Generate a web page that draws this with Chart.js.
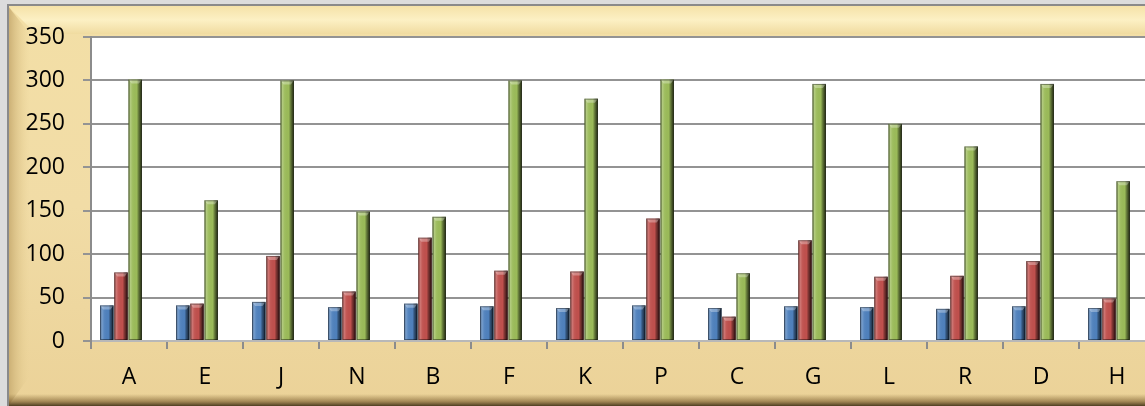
<!DOCTYPE html>
<html>
<head>
<meta charset="utf-8">
<script src="https://cdn.jsdelivr.net/npm/chart.js@4/dist/chart.umd.min.js"></script>
<style>
  html, body { margin: 0; padding: 0; overflow: hidden; background: #dcdcdc; }
  #wrap { width: 1160px; height: 406px; }
</style>
</head>
<body>
<div id="wrap"><canvas id="barChart" width="1160" height="406"></canvas></div>
<script>
const categories = ['A', 'E', 'J', 'N', 'B', 'F', 'K', 'P', 'C', 'G', 'L', 'R', 'D', 'H'];
const blueValues = [41, 41, 45, 39, 43, 40, 38, 41, 38, 40, 39, 37, 40, 38];
const redValues = [79, 43, 98, 57, 119, 81, 80, 141, 28, 116, 74, 75, 92, 49];
const greenValues = [301, 162, 300, 149, 143, 300, 279, 301, 78, 296, 250, 224, 296, 184];
const yTicks = [0, 50, 100, 150, 200, 250, 300, 350];

// parchment frame + white plot area
const frame = {
  id: 'frame',
  beforeDraw(chart) {
    const c = chart.ctx, W = chart.width, H = chart.height, a = chart.chartArea;
    c.save();
    c.fillStyle = '#dcdcdc';
    c.fillRect(0, 0, W, H);
    let g = c.createLinearGradient(0, 5, 0, H);
    g.addColorStop(0, '#f3dfa6');
    g.addColorStop(0.5, '#f1dca6');
    g.addColorStop(1, '#ebd298');
    c.fillStyle = g;
    c.fillRect(8, 5, W - 8, H - 5);
    // bright top band
    g = c.createLinearGradient(0, 6, 0, 34);
    g.addColorStop(0, '#f5e2a8');
    g.addColorStop(0.5, '#fcf0c4');
    g.addColorStop(1, '#f0dba0');
    c.fillStyle = g;
    c.beginPath();
    c.moveTo(8, 6); c.lineTo(W, 6); c.lineTo(W, 34); c.lineTo(36, 34); c.closePath();
    c.fill();
    // left band, slightly darker
    g = c.createLinearGradient(8, 0, 30, 0);
    g.addColorStop(0, '#c9ad72');
    g.addColorStop(1, 'rgba(233,210,150,0)');
    c.fillStyle = g;
    c.beginPath();
    c.moveTo(8, 6); c.lineTo(30, 34); c.lineTo(30, H - 30); c.lineTo(8, H); c.closePath();
    c.fill();
    // bottom shadow
    g = c.createLinearGradient(0, H - 12, 0, H);
    g.addColorStop(0, 'rgba(120,90,40,0)');
    g.addColorStop(0.6, 'rgba(110,80,35,0.55)');
    g.addColorStop(1, 'rgba(60,45,20,0.9)');
    c.fillStyle = g;
    c.fillRect(8, H - 12, W - 8, 12);
    // outer border
    c.strokeStyle = '#8a8a8a';
    c.lineWidth = 2;
    c.beginPath();
    c.moveTo(8, H); c.lineTo(8, 5); c.lineTo(W, 5);
    c.stroke();
    // plot area
    c.fillStyle = '#ffffff';
    c.fillRect(a.left, a.top, a.right - a.left, a.bottom - a.top);
    c.restore();
  }
};

// 3D shading on columns, drawn shifted left for depth
const shading = {
  id: 'shading',
  beforeDatasetsDraw(chart) {
    chart.ctx.save();
    chart.ctx.translate(-8, 0);
  },
  afterDatasetsDraw(chart) {
    const c = chart.ctx;
    chart.data.datasets.forEach((ds, i) => {
      chart.getDatasetMeta(i).data.forEach(bar => {
        const l = bar.x - bar.width / 2, w = bar.width, t = bar.y, h = bar.base - bar.y;
        const g = c.createLinearGradient(l, 0, l + w, 0);
        g.addColorStop(0, 'rgba(0,0,0,0.3)');
        g.addColorStop(0.12, 'rgba(255,255,255,0.25)');
        g.addColorStop(0.3, 'rgba(255,255,255,0.05)');
        g.addColorStop(0.62, 'rgba(0,0,0,0)');
        g.addColorStop(0.78, 'rgba(0,0,0,0.4)');
        g.addColorStop(1, 'rgba(0,0,0,0.75)');
        c.fillStyle = g;
        c.fillRect(l, t, w, h);
        // top bevel
        c.fillStyle = 'rgba(255,255,255,0.3)';
        c.beginPath();
        c.moveTo(l, t); c.lineTo(l + w, t); c.lineTo(l + w - 3, t + 4); c.lineTo(l + 3, t + 4); c.closePath();
        c.fill();
        c.strokeStyle = 'rgba(0,0,0,0.4)';
        c.lineWidth = 1;
        c.strokeRect(l + 0.5, t + 0.5, w - 1, h - 1);
      });
    });
    c.restore();
  }
};

const font = { family: 'Open Sans', size: 23 };

new Chart(document.getElementById('barChart').getContext('2d'), {
  type: 'bar',
  data: {
    labels: categories,
    datasets: [
      { label: 'Series1', data: blueValues, backgroundColor: '#4f81bd' },
      { label: 'Series2', data: redValues, backgroundColor: '#c0504d' },
      { label: 'Series3', data: greenValues, backgroundColor: '#9bbb59' }
    ]
  },
  options: {
    responsive: false,
    animation: false,
    categoryPercentage: 0.56,
    barPercentage: 0.94,
    layout: { padding: { top: 37, right: 5, bottom: 0, left: 0 } },
    plugins: { legend: { display: false }, tooltip: { enabled: false } },
    scales: {
      x: {
        grid: { drawOnChartArea: false, drawTicks: true, tickLength: 8, color: '#8c8c8c', lineWidth: 2 },
        border: { color: '#b8b8b8', width: 2 },
        ticks: { font: font, color: '#000', padding: 15 },
        afterFit(scale) { scale.height = 65; }
      },
      y: {
        min: 0,
        max: 350,
        afterBuildTicks(scale) { scale.ticks = yTicks.map(v => ({ value: v })); },
        grid: { color: '#939393', lineWidth: 2, tickLength: 8 },
        border: { color: '#8c8c8c', width: 2 },
        ticks: { font: font, color: '#000', padding: 18 },
        afterFit(scale) { scale.width = 91; }
      }
    }
  },
  plugins: [frame, shading]
});
</script>
</body>
</html>
